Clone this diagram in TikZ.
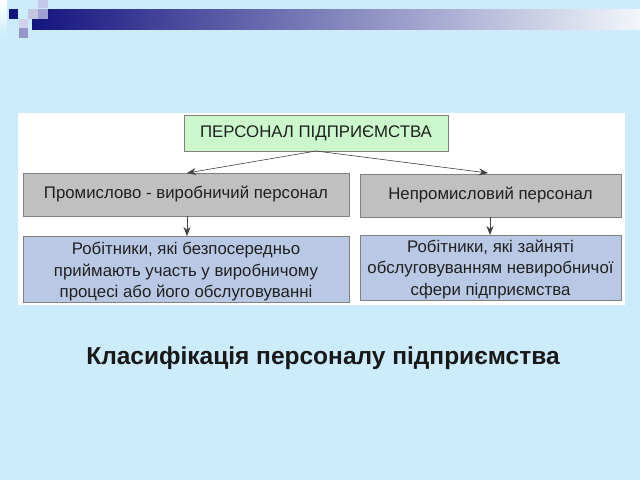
\documentclass[tikz,border=0pt]{standalone}
\usepackage{fontspec}
\setmainfont{Liberation Sans}
\usetikzlibrary{arrows.meta}
\definecolor{bgblue}{HTML}{CCEBFB}
\definecolor{navy}{HTML}{14147F}
\definecolor{barend}{HTML}{F2F6FA}
\definecolor{greenfill}{HTML}{CCF7CC}
\definecolor{grayfill}{HTML}{C0C0C0}
\definecolor{bluefill}{HTML}{B9C9E5}
\definecolor{boxline}{HTML}{808080}
\definecolor{textcol}{HTML}{202020}
\definecolor{sqa}{HTML}{C8C8E8}
\definecolor{sqb}{HTML}{C4C4DE}
\definecolor{sqc}{HTML}{A0A0D2}
\definecolor{sqd}{HTML}{D2D2EC}
\definecolor{sqe}{HTML}{9696CC}
\tikzset{
  box/.style={draw=boxline, line width=0.8pt, inner sep=0pt, align=center, text=textcol, font=\fontsize{16.8}{21.5}\selectfont},
  boxtext/.style={inner sep=0pt, align=center, text=textcol, font=\fontsize{16.8}{21.5}\selectfont},
  conn/.style={draw=black!75, line width=0.6pt, -{Stealth[length=9pt,width=7pt]}},
}
\begin{document}
\begin{tikzpicture}[x=1pt,y=-1pt]
\fill[bgblue] (0,0) rectangle (640,480);
\useasboundingbox (0,0) rectangle (640,480);
% decoration
\shade[left color=navy, right color=barend] (32,9) rectangle (640,29);
\shade[top color=white, bottom color=bgblue] (0,0) rectangle (7,37);
\fill[navy] (9,9) rectangle (18,19);
\fill[sqa] (38,0) rectangle (48,8);
\fill[sqb] (28,9) rectangle (38,19);
\fill[sqc] (38,9) rectangle (48,19);
\fill[sqd] (19,19) rectangle (28,28);
\fill[sqe] (19,28) rectangle (28,38);
% white panel
\fill[white] (18,113) rectangle (625,305);
% boxes
\node[box, fill=greenfill, minimum width=264pt, minimum height=36pt] (top) at (316,133) {ПЕРСОНАЛ ПІДПРИЄМСТВА};
\node[box, fill=grayfill, minimum width=326pt, minimum height=43pt] (pv) at (186,194.5) {Промислово - виробничий персонал};
\node[box, fill=grayfill, minimum width=261pt, minimum height=43pt] (np) at (490.5,195.5) {Непромисловий персонал};
\node[box, fill=bluefill, minimum width=326pt, minimum height=66pt] (w1) at (186,269) {};
\node[boxtext] (w1t) at ([yshift=-3pt]w1.center) {Робітники, які безпосередньо\\приймають участь у виробничому\\процесі або його обслуговуванні};
\node[box, fill=bluefill, minimum width=261pt, minimum height=65pt] (w2) at (490.5,267.5) {};
\node[boxtext] (w2t) at ([yshift=-2pt]w2.center) {Робітники, які зайняті\\обслуговуванням невиробничої\\сфери підприємства};
% connectors
\coordinate (ts) at (316,151);
\draw[conn] (ts) -- (187,173);
\draw[conn] (ts) -- (488,173);
\draw[conn] (187,216) -- (187,236);
\draw[conn] (490,217) -- (490,235);
% caption
\node[font=\bfseries\fontsize{24.5}{29}\selectfont, text=black!90] (cap) at (323,358.5) {Класифікація персоналу підприємства};
\end{tikzpicture}
\end{document}
